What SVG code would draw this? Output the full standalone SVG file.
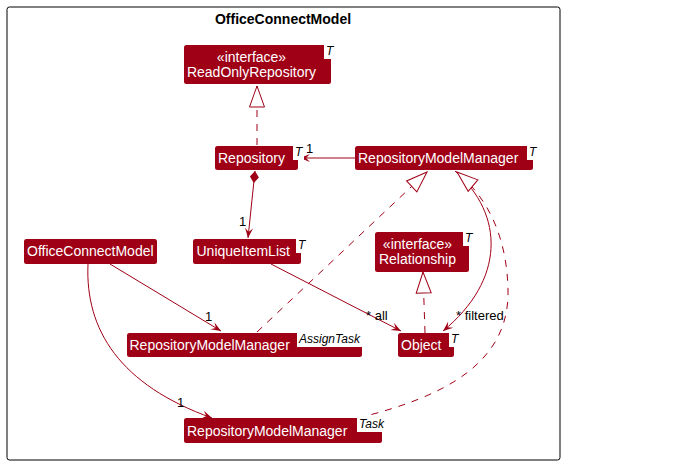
<svg xmlns="http://www.w3.org/2000/svg" width="681" height="465" viewBox="0 0 681 465">
<style>
.cls{fill:#A00016;}
.tpl{fill:#FFFFFF;}
.nm{font-family:"Liberation Sans",Arial,sans-serif;font-size:14px;fill:#FFFFFF;}
.tt{font-family:"Liberation Sans",Arial,sans-serif;font-size:12px;font-style:italic;fill:#000000;}
.lbl{font-family:"Liberation Sans",Arial,sans-serif;font-size:13px;fill:#000000;}
.ln{fill:none;stroke:#A00016;stroke-width:1;}
.dash{stroke-dasharray:7,7;}
</style>
<defs>
<marker id="arr" viewBox="0 0 10 10" markerWidth="10" markerHeight="10" refX="10" refY="5" orient="auto" markerUnits="userSpaceOnUse">
<path d="M10,5 L0,1 L4,5 L0,9 Z" fill="#A00016"/>
</marker>
<marker id="tri" viewBox="-1 -1 23 18" markerWidth="23" markerHeight="18" refX="21" refY="8" orient="auto" markerUnits="userSpaceOnUse">
<path d="M21,8 L0,0.5 L0,15.5 Z" fill="#FFFFFF" stroke="#A00016" stroke-width="1"/>
</marker>
<marker id="dia" viewBox="-1 -1 14 11" markerWidth="14" markerHeight="11" refX="0" refY="4.5" orient="auto" markerUnits="userSpaceOnUse">
<path d="M0,4.5 L6,0 L12,4.5 L6,9 Z" fill="#A00016"/>
</marker>
</defs>
<rect width="681" height="465" fill="#FFFFFF"/>
<g id="package">
<rect x="7" y="7" width="553" height="453" rx="2.5" fill="none" stroke="#000000" stroke-width="1"/>
<text x="283" y="24" text-anchor="middle" font-family="'Liberation Sans',Arial,sans-serif" font-size="14" font-weight="bold">OfficeConnectModel</text>
</g>
<g id="connectors">
<path class="ln dash" d="M257,145 L257,86" marker-end="url(#tri)"/>
<path class="ln" d="M355,158 L300,158" marker-end="url(#arr)"/>
<text class="lbl" x="306" y="153">1</text>
<path class="ln" d="M255,171 L248,238" marker-start="url(#dia)" marker-end="url(#arr)"/>
<text class="lbl" x="239" y="226">1</text>
<path class="ln" d="M110,264 L221,331" marker-end="url(#arr)"/>
<text class="lbl" x="205" y="321">1</text>
<path class="ln" d="M88,264 C85,330 120,385 212,418" marker-end="url(#arr)"/>
<text class="lbl" x="177" y="407">1</text>
<path class="ln dash" d="M257,332 L427,172" marker-end="url(#tri)"/>
<path class="ln" d="M271,264 L401,331" marker-end="url(#arr)"/>
<text class="lbl" x="366" y="320">* all</text>
<path class="ln dash" d="M425,333 L423,272" marker-end="url(#tri)"/>
<path class="ln" d="M455,171 C505,215 505,280 443,331" marker-end="url(#arr)"/>
<text class="lbl" x="456" y="320">* filtered</text>
<path class="ln dash" d="M358,418 C430,400 510,370 508,290 C507,240 490,200 457,172" marker-end="url(#tri)"/>
</g>
<g id="ReadOnlyRepository">
<rect class="cls" x="184" y="45" width="147" height="39" rx="2.5"/>
<rect class="tpl" x="324" y="42" width="11" height="17"/>
<text class="tt" x="326" y="55">T</text>
<text class="nm" x="251.5" y="61.5" text-anchor="middle">«interface»</text>
<text class="nm" x="251.5" y="77" text-anchor="middle">ReadOnlyRepository</text>
</g>
<g id="Repository">
<rect class="cls" x="215" y="146" width="83" height="24" rx="2.5"/>
<rect class="tpl" x="293" y="143" width="11" height="17"/>
<text class="tt" x="295" y="156">T</text>
<text class="nm" x="218" y="162.5">Repository</text>
</g>
<g id="RepositoryModelManager">
<rect class="cls" x="355" y="146" width="178" height="24" rx="2.5"/>
<rect class="tpl" x="527" y="143" width="11" height="17"/>
<text class="tt" x="529" y="156">T</text>
<text class="nm" x="358" y="162.5">RepositoryModelManager</text>
</g>
<g id="OfficeConnectModel">
<rect class="cls" x="24" y="239" width="133" height="25" rx="2.5"/>
<text class="nm" x="27" y="256">OfficeConnectModel</text>
</g>
<g id="UniqueItemList">
<rect class="cls" x="193" y="239" width="108" height="25" rx="2.5"/>
<rect class="tpl" x="296" y="236" width="11" height="17"/>
<text class="tt" x="298" y="249">T</text>
<text class="nm" x="196.5" y="256">UniqueItemList</text>
</g>
<g id="Relationship">
<rect class="cls" x="375" y="232" width="94" height="40" rx="2.5"/>
<rect class="tpl" x="463" y="229" width="11" height="17"/>
<text class="tt" x="465" y="242">T</text>
<text class="nm" x="417.5" y="249" text-anchor="middle">«interface»</text>
<text class="nm" x="417.5" y="264" text-anchor="middle">Relationship</text>
</g>
<g id="Object">
<rect class="cls" x="398" y="333" width="56" height="24" rx="2.5"/>
<rect class="tpl" x="449" y="330" width="11" height="17"/>
<text class="tt" x="451" y="343">T</text>
<text class="nm" x="401" y="350">Object</text>
</g>
<g id="RepositoryModelManagerAssignTask">
<rect class="cls" x="127" y="333" width="235" height="24" rx="2.5"/>
<rect class="tpl" x="297" y="330" width="67" height="17"/>
<text class="tt" x="299" y="343">AssignTask</text>
<text class="nm" x="129.5" y="350">RepositoryModelManager</text>
</g>
<g id="RepositoryModelManagerTask">
<rect class="cls" x="184" y="418" width="198" height="25" rx="2.5"/>
<rect class="tpl" x="357" y="415" width="30" height="17"/>
<text class="tt" x="359" y="428">Task</text>
<text class="nm" x="187" y="436">RepositoryModelManager</text>
</g>
</svg>
